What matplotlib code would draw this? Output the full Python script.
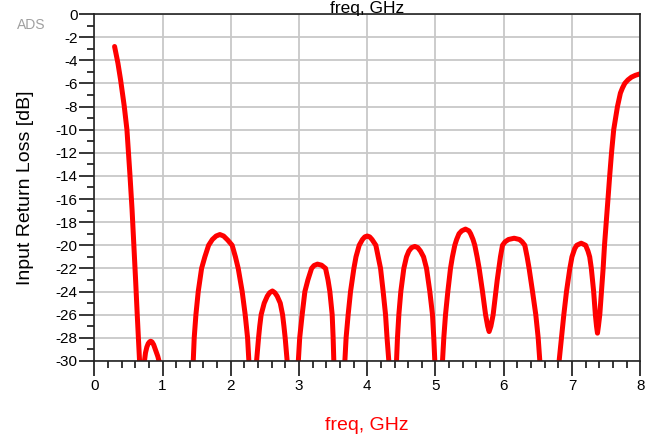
import matplotlib
matplotlib.use('Agg')
import matplotlib.pyplot as plt
from matplotlib.ticker import MultipleLocator

# Шрифт как в ADS (Arial -> Liberation Sans)
plt.rcParams['font.family'] = ['Liberation Sans', 'DejaVu Sans']
plt.rcParams['axes.unicode_minus'] = False

# Частота, ГГц
freq = [0.297, 0.346, 0.385, 0.419, 0.438, 0.478, 0.522, 0.553, 0.580, 0.605, 0.629, 0.663,
        0.70, 0.735, 0.75, 0.77, 0.79, 0.81, 0.826, 0.845, 0.87, 0.90, 0.93, 0.957,
        1.20,
        1.45, 1.464, 1.489, 1.523, 1.572, 1.62, 1.675, 1.73, 1.785, 1.84,
        1.895, 1.955, 2.02, 2.068, 2.109, 2.167, 2.211, 2.246, 2.265,
        2.32,
        2.378, 2.407, 2.424, 2.445, 2.49, 2.535, 2.57, 2.61,
        2.645, 2.68, 2.725, 2.759, 2.779, 2.797, 2.826,
        2.91,
        2.99, 3.01, 3.046, 3.086, 3.13, 3.184, 3.22, 3.27,
        3.33, 3.389, 3.425, 3.452, 3.486, 3.50, 3.51,
        3.59,
        3.672, 3.69, 3.72, 3.755, 3.804, 3.835, 3.882, 3.93, 3.965, 4.00,
        4.035, 4.07, 4.126, 4.16, 4.195, 4.233, 4.268, 4.29, 4.316,
        4.37,
        4.429, 4.443, 4.463, 4.492, 4.536, 4.575, 4.61, 4.65, 4.697,
        4.74, 4.78, 4.825, 4.869, 4.917, 4.956, 4.975, 4.99,
        5.05,
        5.103, 5.122, 5.147, 5.181, 5.22, 5.248, 5.283, 5.31, 5.345, 5.385, 5.44,
        5.49, 5.515, 5.55, 5.576, 5.61, 5.64, 5.665, 5.689, 5.712, 5.734, 5.765, 5.786,
        5.812, 5.845, 5.865, 5.884, 5.905, 5.928, 5.952, 5.982, 6.02, 6.07, 6.153,
        6.23, 6.27, 6.309, 6.343, 6.372, 6.422, 6.47, 6.505, 6.529,
        6.67,
        6.812, 6.847, 6.881, 6.92, 6.969, 7.00, 7.04, 7.07, 7.135,
        7.20, 7.235, 7.26, 7.284, 7.318, 7.343, 7.36, 7.374,
        7.388, 7.408, 7.432, 7.457, 7.477, 7.503, 7.528, 7.553, 7.58, 7.612, 7.667,
        7.71, 7.74, 7.774, 7.82, 7.872, 7.93, 8.00]

# Входные возвратные потери, дБ
return_loss = [-2.81, -4.25, -5.69, -7.13, -7.94, -10.0, -13.9, -16.9, -20.0, -23.0, -26.0, -30.0,
               -32.0, -30.0, -29.3, -28.8, -28.5, -28.35, -28.3, -28.35, -28.6, -29.1, -29.6, -30.2,
               -36.0,
               -30.0, -28.0, -26.0, -24.0, -22.0, -21.0, -20.0, -19.5, -19.2, -19.07,
               -19.2, -19.55, -20.0, -21.0, -22.0, -24.0, -26.0, -28.0, -30.0,
               -34.0,
               -30.0, -28.0, -27.0, -26.0, -25.0, -24.4, -24.1, -23.95,
               -24.1, -24.4, -25.0, -26.0, -27.0, -28.0, -30.0,
               -34.0,
               -30.0, -28.0, -26.0, -24.0, -23.0, -22.0, -21.75, -21.63,
               -21.72, -22.0, -23.0, -24.0, -26.0, -28.0, -30.0,
               -34.0,
               -30.0, -28.0, -26.0, -24.0, -22.0, -21.0, -20.0, -19.5, -19.27, -19.2,
               -19.27, -19.5, -20.0, -21.0, -22.0, -24.0, -26.0, -28.0, -30.0,
               -34.0,
               -30.0, -28.0, -26.0, -24.0, -22.0, -21.0, -20.5, -20.2, -20.1,
               -20.2, -20.5, -21.0, -22.0, -24.0, -26.0, -28.0, -30.0,
               -34.0,
               -30.0, -28.0, -26.0, -24.0, -22.0, -21.0, -20.0, -19.5, -19.0, -18.75, -18.6,
               -18.75, -19.0, -19.5, -20.0, -21.0, -22.0, -23.0, -24.0, -25.0, -26.0, -27.0, -27.46,
               -27.0, -26.0, -25.0, -24.0, -23.0, -22.0, -21.0, -20.0, -19.7, -19.5, -19.39,
               -19.5, -19.7, -20.0, -21.0, -22.0, -24.0, -26.0, -28.0, -30.0,
               -36.0,
               -30.0, -28.0, -26.0, -24.0, -22.0, -21.0, -20.3, -20.0, -19.82,
               -20.0, -20.5, -21.0, -22.0, -24.0, -26.0, -27.0, -27.6,
               -27.0, -26.0, -24.0, -22.0, -20.0, -18.0, -16.0, -14.0, -12.0, -10.0, -8.0,
               -6.84, -6.4, -6.0, -5.7, -5.46, -5.3, -5.17]

fig = plt.figure(figsize=(6.46, 4.38), dpi=100)
ax = fig.add_axes([0.146, 0.176, 0.845, 0.792])

# Кривая
ax.plot(freq, return_loss, color='#ff0000', linewidth=3.6,
        solid_joinstyle='round', solid_capstyle='round')

ax.set_xlim(0, 8)
ax.set_ylim(-30, 0)
ax.xaxis.set_major_locator(MultipleLocator(1))
ax.xaxis.set_minor_locator(MultipleLocator(0.2))
ax.yaxis.set_major_locator(MultipleLocator(2))
ax.yaxis.set_minor_locator(MultipleLocator(1))

ax.grid(True, which='major', color='#c8c8c8', linewidth=1.3)
ax.set_axisbelow(True)

ax.tick_params(which='major', direction='out', length=11, width=1.1, labelsize=11, pad=2)
ax.tick_params(which='minor', direction='out', length=5, width=1.1)
ax.tick_params(axis='y', which='major', pad=1)

for s in ax.spines.values():
    s.set_linewidth(1.2)
    s.set_color('#222222')

# Подписи
fig.text(0.568, 0.018, 'freq, GHz', color='#ff0000', fontsize=14, ha='center', va='baseline')
fig.text(0.568, 0.971, 'freq, GHz', color='black', fontsize=12.5, ha='center', va='baseline')
fig.text(0.039, 0.571, 'Input Return Loss [dB]', fontsize=14, rotation=90, ha='center', va='center')
fig.text(0.049, 0.942, 'ADS', color='#a0a0a0', fontsize=10, ha='center', va='center')

fig.savefig('out.png', dpi=100)
